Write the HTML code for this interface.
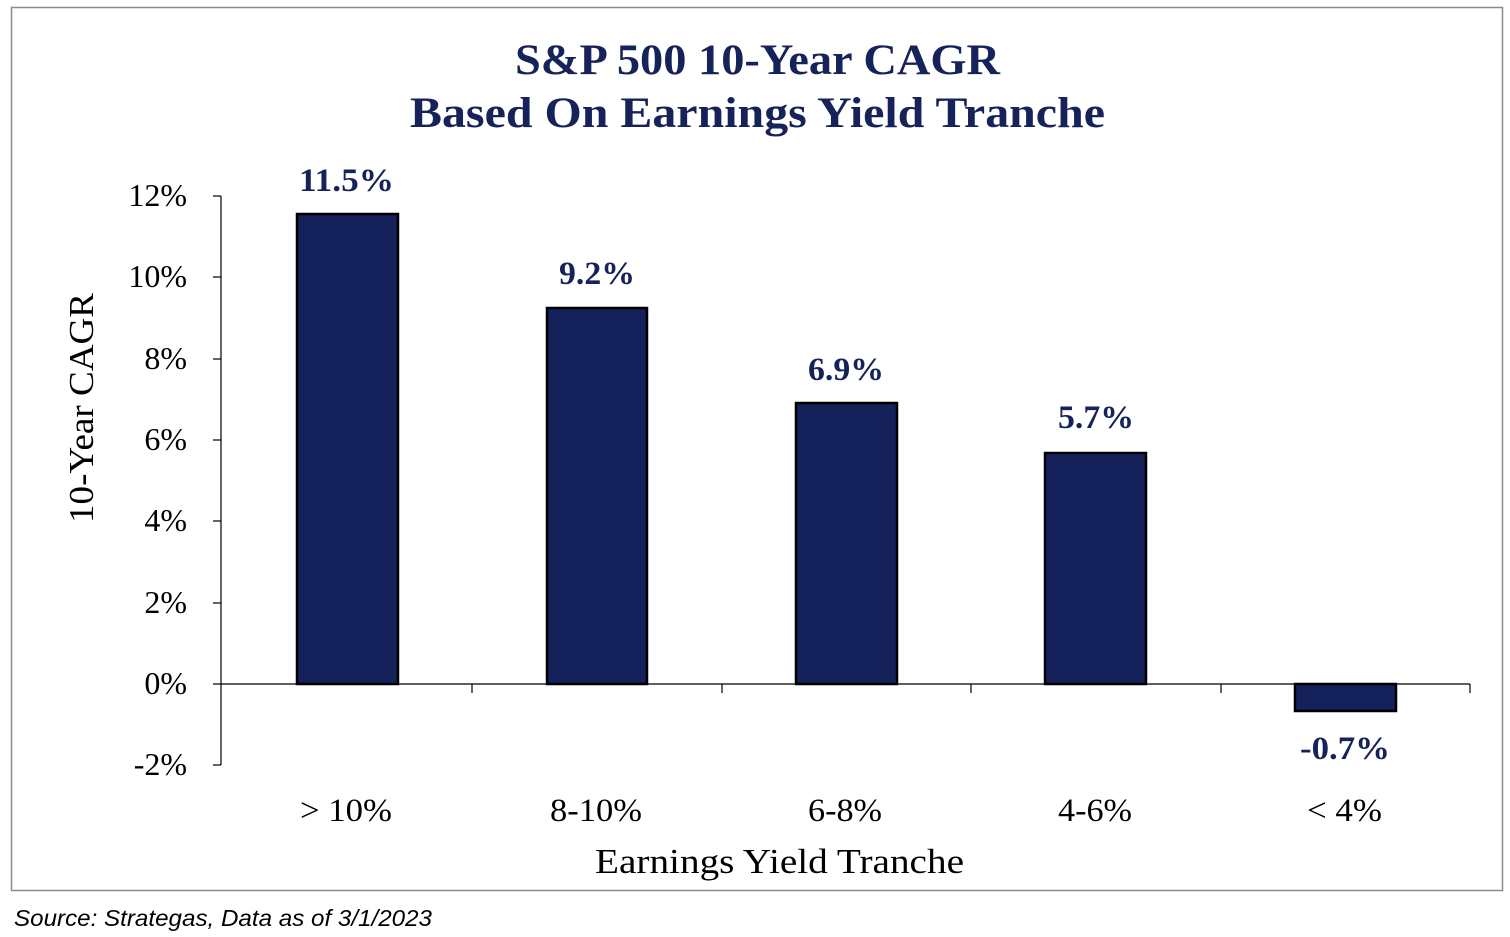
<!DOCTYPE html>
<html><head><meta charset="utf-8"><style>
html,body{margin:0;padding:0;background:#fff;}
svg{display:block;}
</style></head><body>
<svg width="1510" height="937" xmlns="http://www.w3.org/2000/svg">
<rect x="11.5" y="7.5" width="1491" height="883" fill="#fff" stroke="#8c8c8c" stroke-width="1.5"/>
<g font-family="Liberation Serif, serif" fill="#16225a" font-weight="bold" font-size="43" lengthAdjust="spacingAndGlyphs">
<text x="515" y="74" textLength="485" lengthAdjust="spacingAndGlyphs">S&amp;P 500 10-Year CAGR</text>
<text x="410" y="127" textLength="695" lengthAdjust="spacingAndGlyphs">Based On Earnings Yield Tranche</text>
</g>
<g fill="#14215a" stroke="#000" stroke-width="2.5">
<rect x="297" y="214" width="101" height="470"/>
<rect x="547" y="308" width="100" height="376"/>
<rect x="796" y="403" width="101" height="281"/>
<rect x="1045" y="453" width="101" height="231"/>
<rect x="1295" y="684" width="101" height="27"/>
</g>
<g stroke="#000" stroke-width="1.2">
<line x1="221" y1="196" x2="221" y2="765"/>
<line x1="221" y1="684" x2="1470" y2="684"/>
<line x1="213" y1="196" x2="221" y2="196"/>
<line x1="213" y1="277" x2="221" y2="277"/>
<line x1="213" y1="359" x2="221" y2="359"/>
<line x1="213" y1="440" x2="221" y2="440"/>
<line x1="213" y1="521" x2="221" y2="521"/>
<line x1="213" y1="603" x2="221" y2="603"/>
<line x1="213" y1="684" x2="221" y2="684"/>
<line x1="213" y1="765" x2="221" y2="765"/>
<line x1="472" y1="684" x2="472" y2="693"/>
<line x1="722" y1="684" x2="722" y2="693"/>
<line x1="971" y1="684" x2="971" y2="693"/>
<line x1="1221" y1="684" x2="1221" y2="693"/>
<line x1="1470" y1="684" x2="1470" y2="693"/>
</g>
<g font-family="Liberation Serif, serif" fill="#000" font-size="32" text-anchor="end">
<text x="187" y="206">12%</text>
<text x="187" y="287">10%</text>
<text x="187" y="369">8%</text>
<text x="187" y="450">6%</text>
<text x="187" y="531">4%</text>
<text x="187" y="613">2%</text>
<text x="187" y="694">0%</text>
<text x="187" y="775">-2%</text>
</g>
<g font-family="Liberation Serif, serif" fill="#000" font-size="33">
<text x="300" y="821" textLength="92" lengthAdjust="spacingAndGlyphs">&gt; 10%</text>
<text x="550" y="821" textLength="92" lengthAdjust="spacingAndGlyphs">8-10%</text>
<text x="808" y="821" textLength="74" lengthAdjust="spacingAndGlyphs">6-8%</text>
<text x="1058" y="821" textLength="74" lengthAdjust="spacingAndGlyphs">4-6%</text>
<text x="1307" y="821" textLength="75" lengthAdjust="spacingAndGlyphs">&lt; 4%</text>
<text x="595" y="873" font-size="35" textLength="369" lengthAdjust="spacingAndGlyphs">Earnings Yield Tranche</text>
<text transform="translate(93,523) rotate(-90)" font-size="35" textLength="230" lengthAdjust="spacingAndGlyphs">10-Year CAGR</text>
</g>
<g font-family="Liberation Serif, serif" fill="#16225a" font-weight="bold" font-size="33">
<text x="299" y="191" textLength="95" lengthAdjust="spacingAndGlyphs">11.5%</text>
<text x="559" y="284" textLength="76" lengthAdjust="spacingAndGlyphs">9.2%</text>
<text x="808" y="380" textLength="76" lengthAdjust="spacingAndGlyphs">6.9%</text>
<text x="1058" y="428" textLength="76" lengthAdjust="spacingAndGlyphs">5.7%</text>
<text x="1300" y="759" textLength="90" lengthAdjust="spacingAndGlyphs">-0.7%</text>
</g>
<text x="14" y="926" font-family="Liberation Sans, sans-serif" font-style="italic" font-size="23" fill="#000" textLength="418" lengthAdjust="spacingAndGlyphs">Source: Strategas, Data as of 3/1/2023</text>
</svg>
</body></html>
